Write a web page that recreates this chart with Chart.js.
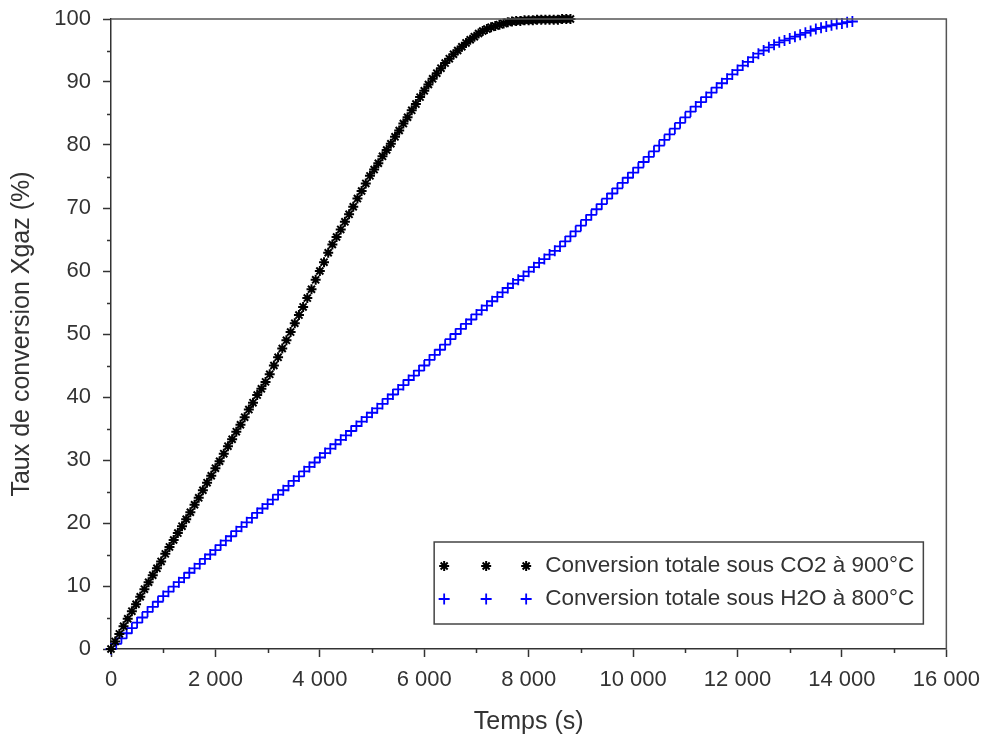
<!DOCTYPE html>
<html>
<head>
<meta charset="utf-8">
<title>Taux de conversion</title>
<script src="https://cdn.jsdelivr.net/npm/chart.js@4.4.1/dist/chart.umd.min.js"></script>
<style>
  html, body { margin: 0; padding: 0; background: #fff; }
  #wrap { width: 990px; height: 742px; position: relative; }
</style>
</head>
<body>
<div id="wrap"><canvas id="convChart" width="990" height="742"></canvas></div>
<script>
// Temps (s) and conversion (%)
const co2Time = [
  0, 80, 160, 240, 320, 400, 480, 560, 640, 720,
  800, 880, 960, 1040, 1120, 1200, 1280, 1360, 1440, 1520,
  1600, 1680, 1760, 1840, 1920, 2000, 2080, 2160, 2240, 2320,
  2400, 2480, 2560, 2640, 2720, 2800, 2880, 2960, 3040, 3120,
  3200, 3280, 3360, 3440, 3520, 3600, 3680, 3760, 3840, 3920,
  4000, 4080, 4160, 4240, 4320, 4400, 4480, 4560, 4640, 4720,
  4800, 4880, 4960, 5040, 5120, 5200, 5280, 5360, 5440, 5520,
  5600, 5680, 5760, 5840, 5920, 6000, 6080, 6160, 6240, 6320,
  6400, 6480, 6560, 6640, 6720, 6800, 6880, 6960, 7040, 7120,
  7200, 7280, 7360, 7440, 7520, 7600, 7680, 7760, 7840, 7920,
  8000, 8080, 8160, 8240, 8320, 8400, 8480, 8560, 8640, 8720,
  8800
];
const co2Values = [
  0, 1.2, 2.4, 3.6, 4.8, 6.0, 7.1, 8.3, 9.5, 10.6,
  11.7, 12.8, 13.9, 15.1, 16.2, 17.3, 18.4, 19.5, 20.6, 21.7,
  22.9, 24.0, 25.2, 26.4, 27.5, 28.7, 29.8, 31.0, 32.2, 33.3,
  34.5, 35.6, 36.8, 38.0, 39.1, 40.3, 41.3, 42.4, 43.6, 45.0,
  46.3, 47.7, 49.0, 50.3, 51.7, 53.0, 54.3, 55.7, 57.1, 58.6,
  60.0, 61.4, 62.9, 64.2, 65.4, 66.6, 67.8, 69.0, 70.2, 71.5,
  72.7, 73.9, 75.1, 76.1, 77.1, 78.2, 79.2, 80.2, 81.3, 82.3,
  83.4, 84.4, 85.5, 86.5, 87.6, 88.6, 89.6, 90.5, 91.4, 92.2,
  93.0, 93.7, 94.4, 95.0, 95.6, 96.2, 96.7, 97.2, 97.7, 98.1,
  98.4, 98.7, 98.9, 99.1, 99.3, 99.5, 99.6, 99.7, 99.7, 99.8,
  99.8, 99.8, 99.9, 99.9, 99.9, 99.9, 99.9, 99.9, 100, 100,
  100
];
const h2oTime = [
  0, 100, 200, 300, 400, 500, 600, 700, 800, 900,
  1000, 1100, 1200, 1300, 1400, 1500, 1600, 1700, 1800, 1900,
  2000, 2100, 2200, 2300, 2400, 2500, 2600, 2700, 2800, 2900,
  3000, 3100, 3200, 3300, 3400, 3500, 3600, 3700, 3800, 3900,
  4000, 4100, 4200, 4300, 4400, 4500, 4600, 4700, 4800, 4900,
  5000, 5100, 5200, 5300, 5400, 5500, 5600, 5700, 5800, 5900,
  6000, 6100, 6200, 6300, 6400, 6500, 6600, 6700, 6800, 6900,
  7000, 7100, 7200, 7300, 7400, 7500, 7600, 7700, 7800, 7900,
  8000, 8100, 8200, 8300, 8400, 8500, 8600, 8700, 8800, 8900,
  9000, 9100, 9200, 9300, 9400, 9500, 9600, 9700, 9800, 9900,
  10000, 10100, 10200, 10300, 10400, 10500, 10600, 10700, 10800, 10900,
  11000, 11100, 11200, 11300, 11400, 11500, 11600, 11700, 11800, 11900,
  12000, 12100, 12200, 12300, 12400, 12500, 12600, 12700, 12800, 12900,
  13000, 13100, 13200, 13300, 13400, 13500, 13600, 13700, 13800, 13900,
  14000, 14100, 14200
];
const h2oValues = [
  0, 0.8, 1.7, 2.5, 3.3, 4.2, 5.0, 5.9, 6.7, 7.5,
  8.4, 9.1, 9.9, 10.6, 11.3, 12.1, 12.8, 13.5, 14.3, 15.0,
  15.7, 16.5, 17.2, 17.9, 18.7, 19.4, 20.1, 20.8, 21.6, 22.3,
  23.0, 23.7, 24.5, 25.2, 25.9, 26.7, 27.4, 28.2, 28.9, 29.6,
  30.4, 31.1, 31.8, 32.5, 33.2, 33.9, 34.6, 35.4, 36.1, 36.8,
  37.5, 38.2, 38.9, 39.7, 40.4, 41.2, 41.9, 42.7, 43.4, 44.2,
  45.0, 45.9, 46.7, 47.5, 48.3, 49.2, 50.0, 50.8, 51.6, 52.3,
  53.1, 53.8, 54.5, 55.2, 55.9, 56.6, 57.3, 58.0, 58.6, 59.2,
  59.9, 60.6, 61.3, 61.9, 62.6, 63.2, 63.9, 64.7, 65.5, 66.3,
  67.2, 68.1, 68.9, 69.8, 70.6, 71.5, 72.3, 73.1, 74.0, 74.8,
  75.6, 76.4, 77.3, 78.1, 79.0, 79.9, 80.8, 81.7, 82.6, 83.5,
  84.4, 85.3, 86.1, 86.8, 87.6, 88.3, 89.1, 89.8, 90.5, 91.2,
  91.9, 92.6, 93.2, 93.9, 94.5, 95.0, 95.5, 95.9, 96.3, 96.6,
  96.9, 97.2, 97.5, 97.8, 98.1, 98.4, 98.6, 98.8, 99.0, 99.2,
  99.3, 99.5, 99.6
];

const xTickLabels = ['0', '2 000', '4 000', '6 000', '8 000', '10 000', '12 000', '14 000', '16 000'];
const yTickLabels = ['0', '10', '20', '30', '40', '50', '60', '70', '80', '90', '100'];
const xMinorTicks = [1000, 3000, 5000, 7000, 9000, 11000, 13000, 15000];
const yMinorTicks = [5, 15, 25, 35, 45, 55, 65, 75, 85, 95];
const seriesLabels = ['Conversion totale sous CO2 à 900°C', 'Conversion totale sous H2O à 800°C'];

const FONT = "'Liberation Sans', Arial, Helvetica, sans-serif";
const INK = '#333333';

// minor ticks, top/right frame and the boxed legend
const decorPlugin = {
  id: 'decor',
  afterDraw(chart) {
    const ctx = chart.ctx;
    const area = chart.chartArea;
    const xs = chart.scales.x;
    const ys = chart.scales.y;

    ctx.save();
    ctx.strokeStyle = INK;
    ctx.lineWidth = 1.5;
    ctx.beginPath();
    yMinorTicks.forEach(v => {
      const py = Math.round(ys.getPixelForValue(v)) + 0.5;
      ctx.moveTo(area.left - 4, py);
      ctx.lineTo(area.left, py);
    });
    xMinorTicks.forEach(v => {
      const px = Math.round(xs.getPixelForValue(v)) + 0.5;
      ctx.moveTo(px, area.bottom);
      ctx.lineTo(px, area.bottom + 4);
    });
    ctx.stroke();

    // frame top and right
    ctx.strokeStyle = '#555555';
    ctx.beginPath();
    ctx.moveTo(area.left, area.top);
    ctx.lineTo(area.right, area.top);
    ctx.lineTo(area.right, area.bottom);
    ctx.stroke();

    // legend box
    ctx.font = '22.5px ' + FONT;
    const textW = Math.max(...seriesLabels.map(s => ctx.measureText(s).width));
    const boxW = 111 + textW + 9;
    const boxH = 82;
    const boxLeft = area.right - 23 - boxW;
    const boxTop = area.bottom - 25 - boxH;
    ctx.fillStyle = '#ffffff';
    ctx.fillRect(boxLeft, boxTop, boxW, boxH);
    ctx.strokeStyle = '#444444';
    ctx.lineWidth = 1.5;
    ctx.strokeRect(boxLeft, boxTop, boxW, boxH);

    chart.data.datasets.forEach((ds, i) => {
      const rowY = boxTop + 24 + i * 33;
      ctx.strokeStyle = ds.pointBorderColor;
      ctx.fillStyle = ds.pointBorderColor;
      ctx.lineWidth = ds.pointBorderWidth;
      [10, 52, 92].forEach(dx => {
        Chart.helpers.drawPoint(ctx, {
          pointStyle: ds.pointStyle,
          radius: ds.pointRadius,
          rotation: 0,
          borderWidth: ds.pointBorderWidth
        }, boxLeft + dx, rowY);
      });
      ctx.fillStyle = INK;
      ctx.textAlign = 'left';
      ctx.textBaseline = 'middle';
      ctx.fillText(ds.label, boxLeft + 111, rowY);
    });
    ctx.restore();
  }
};

const ctx = document.getElementById('convChart').getContext('2d');
new Chart(ctx, {
  type: 'scatter',
  data: {
    datasets: [{
      label: seriesLabels[0],
      data: co2Time.map((t, i) => ({ x: t, y: co2Values[i] })),
      showLine: false,
      pointStyle: 'star',
      pointRadius: 5,
      pointBorderWidth: 2,
      pointBorderColor: '#000000',
      pointBackgroundColor: '#000000',
      clip: false
    }, {
      label: seriesLabels[1],
      data: h2oTime.map((t, i) => ({ x: t, y: h2oValues[i] })),
      showLine: false,
      pointStyle: 'cross',
      pointRadius: 5.5,
      pointBorderWidth: 1.8,
      pointBorderColor: '#0000ff',
      pointBackgroundColor: '#0000ff',
      clip: false
    }]
  },
  options: {
    responsive: false,
    animation: false,
    devicePixelRatio: 1,
    layout: { padding: { top: 19, right: 42, bottom: 0, left: 0 } },
    plugins: {
      legend: { display: false },
      tooltip: { enabled: false }
    },
    scales: {
      x: {
        type: 'linear',
        min: 0,
        max: 16000,
        afterFit: scale => { scale.height = 93; },
        ticks: {
          stepSize: 2000,
          autoSkip: false,
          maxRotation: 0,
          padding: 10,
          color: INK,
          font: { family: FONT, size: 22 },
          callback: (value, index) => xTickLabels[index]
        },
        grid: { drawOnChartArea: false, drawTicks: true, tickLength: 8, color: INK, tickWidth: 1.5 },
        border: { display: true, color: INK, width: 1.5 },
        title: {
          display: true,
          text: 'Temps (s)',
          color: INK,
          font: { family: FONT, size: 25 },
          padding: { top: 4, bottom: 5 }
        }
      },
      y: {
        type: 'linear',
        min: 0,
        max: 100,
        afterFit: scale => {
          scale.width = 111;
          scale.paddingTop = 0;
          scale.paddingBottom = 0;
        },
        ticks: {
          stepSize: 10,
          autoSkip: false,
          padding: 12,
          color: INK,
          font: { family: FONT, size: 22 },
          callback: (value, index) => yTickLabels[index]
        },
        grid: { drawOnChartArea: false, drawTicks: true, tickLength: 8, color: INK, tickWidth: 1.5 },
        border: { display: true, color: INK, width: 1.5 },
        title: {
          display: true,
          text: 'Taux de conversion Xgaz (%)',
          color: INK,
          font: { family: FONT, size: 25 },
          padding: { top: 7, bottom: 4 }
        }
      }
    }
  },
  plugins: [decorPlugin]
});
</script>
</body>
</html>
